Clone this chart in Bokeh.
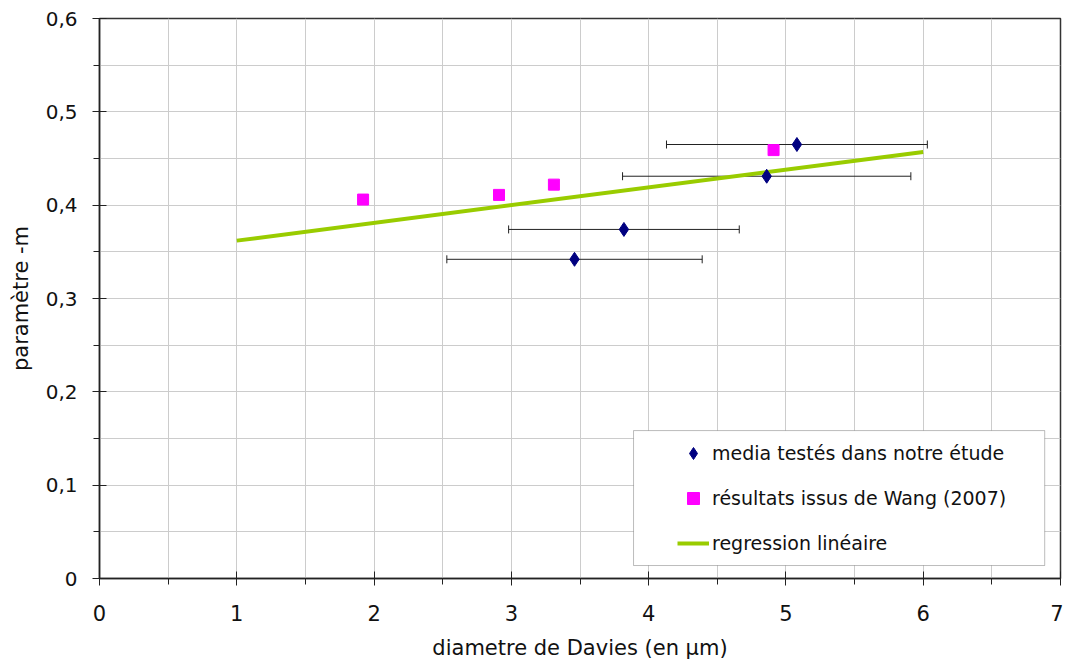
import numpy as np
from bokeh.plotting import figure
from bokeh.models import (ColumnDataSource, Range1d, FixedTicker, CustomJSTickFormatter,
                          Whisker, TeeHead, Legend, LegendItem, BoxAnnotation)
from bokeh.embed import file_html
from bokeh.resources import INLINE

# --- data ---
media_x = [5.08, 4.86, 3.82, 3.46]
media_y = [0.465, 0.431, 0.374, 0.342]
media_xerr = [0.95, 1.05, 0.84, 0.93]

wang_x = [1.92, 2.91, 3.31, 4.91]
wang_y = [0.406, 0.411, 0.422, 0.459]

reg_x = [1.0, 6.0]
reg_y = [0.362, 0.457]

x_ticks = [0, 1, 2, 3, 4, 5, 6, 7]
x_minor = [0.5, 1.5, 2.5, 3.5, 4.5, 5.5, 6.5]
y_ticks = [0.0, 0.1, 0.2, 0.3, 0.4, 0.5, 0.6]
y_minor = [0.05, 0.15, 0.25, 0.35, 0.45, 0.55]

labels = ["media testés dans notre étude", "résultats issus de Wang (2007)", "regression linéaire"]

FONT = "DejaVu Sans"
NAVY = "#000080"
MAGENTA = "#ff00ff"
GREEN = "#99cc00"

p = figure(width=1063, height=662, output_backend="svg", toolbar_location=None,
           x_range=Range1d(0, 7), y_range=Range1d(0, 0.6),
           min_border_left=99, min_border_right=3, min_border_top=18, min_border_bottom=83)
p.background_fill_color = "white"
p.border_fill_color = "white"
p.outline_line_color = "#333333"
p.outline_line_width = 1.5

# axes
p.xaxis.ticker = FixedTicker(ticks=x_ticks, minor_ticks=x_minor)
p.yaxis.ticker = FixedTicker(ticks=y_ticks, minor_ticks=y_minor)
p.yaxis.formatter = CustomJSTickFormatter(code="return tick == 0 ? '0' : tick.toFixed(1).replace('.', ',');")
p.xaxis.formatter = CustomJSTickFormatter(code="return tick.toFixed(0);")
for ax in (p.xaxis[0], p.yaxis[0]):
    ax.axis_line_color = "#222222"
    ax.axis_line_width = 1.5
    ax.major_tick_line_color = "#222222"
    ax.minor_tick_line_color = "#222222"
    ax.major_tick_in = 7
    ax.major_tick_out = 7
    ax.minor_tick_in = 0
    ax.minor_tick_out = 6
    ax.major_label_text_font = FONT
    ax.major_label_text_color = "#111111"
    ax.axis_label_text_font = FONT
    ax.axis_label_text_font_size = "21px"
    ax.axis_label_text_font_style = "normal"
    ax.axis_label_text_color = "#111111"
p.xaxis.major_label_text_font_size = "21px"
p.yaxis.major_label_text_font_size = "20px"
p.xaxis.axis_label = "diametre de Davies (en µm)"
p.yaxis.axis_label = "paramètre -m"
p.xaxis.major_label_standoff = 19
p.xaxis.axis_label_standoff = 12
p.yaxis.major_label_standoff = 15
p.yaxis.axis_label_standoff = 10

# grid
for g in (p.xgrid[0], p.ygrid[0]):
    g.grid_line_color = "#cccccc"
    g.grid_line_width = 1
    g.minor_grid_line_color = "#cccccc"
    g.minor_grid_line_width = 1

# error bars
src_m = ColumnDataSource(dict(x=media_x, y=media_y,
                              lo=[a - e for a, e in zip(media_x, media_xerr)],
                              hi=[a + e for a, e in zip(media_x, media_xerr)]))
wh = Whisker(source=src_m, base="y", lower="lo", upper="hi", dimension="width",
             line_color="#222222", line_width=1,
             lower_head=TeeHead(size=8, line_color="#222222", line_width=1),
             upper_head=TeeHead(size=8, line_color="#222222", line_width=1))
p.add_layout(wh)

# regression line
r_line = p.line(reg_x, reg_y, line_color=GREEN, line_width=4)

# markers
r_wang = p.scatter(wang_x, wang_y, marker="square", size=11, fill_color=MAGENTA, line_color=MAGENTA)
r_media = p.scatter("x", "y", source=src_m, marker="diamond", size=14,
                    fill_color=NAVY, line_color=NAVY)

# legend box
box = BoxAnnotation(left=3.89, right=6.885, top=0.1585, bottom=0.0139,
                    fill_color="white", fill_alpha=1.0, line_color="#222222", line_width=1)
p.add_layout(box)

legend = Legend(items=[LegendItem(label=labels[0], renderers=[r_media]),
                       LegendItem(label=labels[1], renderers=[r_wang]),
                       LegendItem(label=labels[2], renderers=[r_line])],
                location=(578, 20), orientation="vertical",
                padding=0, margin=0, spacing=15,
                glyph_width=32, glyph_height=30, label_height=30, label_standoff=3,
                border_line_alpha=0, background_fill_alpha=0,
                label_text_font=FONT, label_text_font_size="19px", label_text_color="#111111")
p.add_layout(legend)

open("out.html", "w").write(file_html(p, INLINE))
